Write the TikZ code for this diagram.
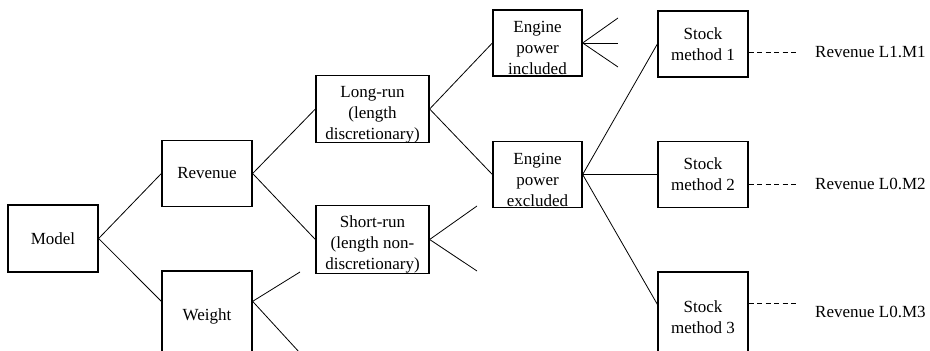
\documentclass[tikz,border=0pt]{standalone}
\usepackage{fontspec}
\setmainfont{Liberation Serif}
\usetikzlibrary{calc}
\newcommand{\topgap}{\rule{0pt}{22pt}}
\begin{document}
\begin{tikzpicture}[x=1pt,y=-1pt,
  box/.style={draw, line width=1.3pt, minimum width=90pt, minimum height=66pt, inner sep=0pt, align=center, font=\fontsize{17}{21}\selectfont},
  wide/.style={minimum width=113pt},
  tall/.style={minimum height=90pt},
  conn/.style={line width=0.8pt},
  dline/.style={line width=0.8pt, dash pattern=on 5pt off 3.5pt},
  lab/.style={anchor=west, inner sep=0pt, font=\fontsize{17}{21}\selectfont}]
\useasboundingbox (0,0) rectangle (930,351);
\clip (0,0) rectangle (930,351);

% boxes
\node[box, minimum height=67pt] (model) at (53,238.5) {Model};
\node[box] (revenue) at (207,173.5) {Revenue};
\node[box, tall] (weight) at (207,316) {Weight};
\node[box, wide] (long) at (372.5,109) {\topgap Long-run\\(length\\discretionary)};
\node[box, wide] (short) at (372.5,239.5) {\topgap Short-run\\(length non-\\discretionary)};
\node[box, minimum width=89pt] (inc) at (537.5,43) {\topgap Engine\\power\\included};
\node[box, minimum width=89pt] (exc) at (537.5,174.5) {\topgap Engine\\power\\excluded};
\node[box] (s1) at (703,44) {Stock\\method 1};
\node[box] (s2) at (703,174.5) {Stock\\method 2};
\node[box, tall] (s3) at (703,317) {Stock\\method 3};

% labels
\node[lab] (l1) at (815,52) {Revenue L1.M1};
\node[lab] (l2) at (815,184) {Revenue L0.M2};
\node[lab] (l3) at (815,312) {Revenue L0.M3};

% free ends
\coordinate (w1) at (300,272);
\coordinate (w2) at (300,353);
\coordinate (sr1) at (477,206);
\coordinate (sr2) at (477,271);
\coordinate (ei1) at (618,18);
\coordinate (ei2) at (618,43);
\coordinate (ei3) at (618,67);

% connectors
\draw[conn] (model.east) -- (revenue.west);
\draw[conn] (model.east) -- ($(weight.north west)+(0,31)$);
\draw[conn] (revenue.east) -- (long.west);
\draw[conn] (revenue.east) -- (short.west);
\draw[conn] ($(weight.north east)+(0,31)$) -- (w1);
\draw[conn] ($(weight.north east)+(0,31)$) -- (w2);
\draw[conn] (long.east) -- (inc.west);
\draw[conn] (long.east) -- (exc.west);
\draw[conn] (short.east) -- (sr1);
\draw[conn] (short.east) -- (sr2);
\draw[conn] (inc.east) -- (ei1);
\draw[conn] (inc.east) -- (ei2);
\draw[conn] (inc.east) -- (ei3);
\draw[conn] (exc.east) -- (s1.west);
\draw[conn] (exc.east) -- (s2.west);
\draw[conn] (exc.east) -- ($(s3.north west)+(0,33)$);

% dashed leaders
\draw[dline] (s1.east |- l1.west) -- ($(l1.west)+(-17,0)$);
\draw[dline] (s2.east |- l2.west) -- ($(l2.west)+(-17,0)$);
\draw[dline] ($(s3.east |- l3.west)+(0,-9)$) -- ($(l3.west)+(-18,-9)$);
\end{tikzpicture}
\end{document}
